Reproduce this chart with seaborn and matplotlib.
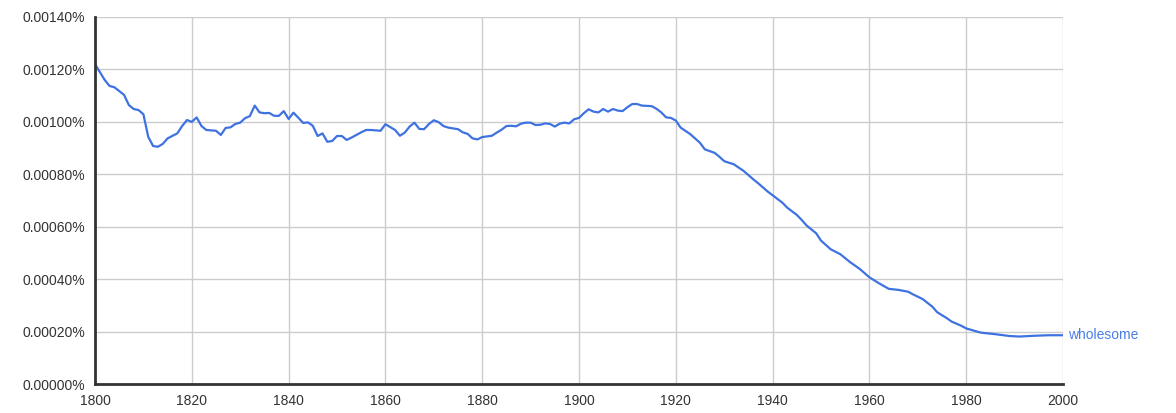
import matplotlib
matplotlib.use("Agg")
import matplotlib.pyplot as plt
import seaborn as sns
import pandas as pd
from matplotlib.ticker import FuncFormatter, MultipleLocator

years = [1800, 1802, 1803, 1804, 1806, 1807, 1808, 1809, 1810, 1811, 1812, 1813, 1814, 1815,
         1817, 1818, 1819, 1820, 1821, 1822, 1823, 1825, 1826, 1827, 1828, 1829, 1830, 1831,
         1832, 1833, 1834, 1835, 1836, 1837, 1838, 1839, 1840, 1841, 1842, 1843, 1844, 1845,
         1846, 1847, 1848, 1849, 1850, 1851, 1852, 1853, 1854, 1855, 1856, 1857, 1859, 1860,
         1862, 1863, 1864, 1865, 1866, 1867, 1868, 1869, 1870, 1871, 1872, 1873, 1875, 1876,
         1877, 1878, 1879, 1880, 1882, 1883, 1884, 1885, 1886, 1887, 1888, 1889, 1890, 1891,
         1892, 1893, 1894, 1895, 1896, 1897, 1898, 1899, 1900, 1901, 1902, 1903, 1904, 1905,
         1906, 1907, 1908, 1909, 1910, 1911, 1912, 1913, 1915, 1916, 1917, 1918, 1919, 1920,
         1921, 1923, 1925, 1926, 1928, 1929, 1930, 1932, 1934, 1936, 1937, 1939, 1940, 1942,
         1943, 1945, 1946, 1947, 1949, 1950, 1952, 1954, 1956, 1958, 1960, 1962, 1964, 1966,
         1968, 1969, 1971, 1973, 1974, 1976, 1977, 1979, 1980, 1983, 1986, 1989, 1991, 1994,
         1997, 2000]

wholesome = [0.001220, 0.001160, 0.001137, 0.001132, 0.001103, 0.001064, 0.001049, 0.001045,
             0.001029, 0.000943, 0.000908, 0.000905, 0.000916, 0.000937, 0.000956, 0.000984,
             0.001007, 0.001000, 0.001017, 0.000984, 0.000969, 0.000966, 0.000950, 0.000977,
             0.000979, 0.000992, 0.000997, 0.001014, 0.001022, 0.001062, 0.001036, 0.001033,
             0.001034, 0.001023, 0.001023, 0.001041, 0.001011, 0.001035, 0.001016, 0.000996,
             0.000998, 0.000985, 0.000946, 0.000956, 0.000924, 0.000927, 0.000946, 0.000946,
             0.000931, 0.000940, 0.000950, 0.000960, 0.000969, 0.000969, 0.000966, 0.000991,
             0.000969, 0.000947, 0.000959, 0.000982, 0.000997, 0.000973, 0.000972, 0.000992,
             0.001006, 0.000999, 0.000984, 0.000978, 0.000972, 0.000960, 0.000954, 0.000937,
             0.000933, 0.000942, 0.000947, 0.000959, 0.000970, 0.000984, 0.000985, 0.000983,
             0.000993, 0.000997, 0.000997, 0.000988, 0.000989, 0.000994, 0.000992, 0.000982,
             0.000993, 0.000997, 0.000994, 0.001010, 0.001015, 0.001033, 0.001048, 0.001039,
             0.001036, 0.001049, 0.001039, 0.001049, 0.001043, 0.001041, 0.001056, 0.001068,
             0.001068, 0.001062, 0.001060, 0.001050, 0.001036, 0.001017, 0.001015, 0.001005,
             0.000978, 0.000953, 0.000920, 0.000895, 0.000882, 0.000867, 0.000850, 0.000838,
             0.000813, 0.000781, 0.000766, 0.000734, 0.000720, 0.000692, 0.000673, 0.000645,
             0.000626, 0.000605, 0.000575, 0.000547, 0.000514, 0.000495, 0.000465, 0.000439,
             0.000407, 0.000384, 0.000363, 0.000359, 0.000352, 0.000342, 0.000324, 0.000295,
             0.000274, 0.000251, 0.000238, 0.000222, 0.000212, 0.000196, 0.000190, 0.000183,
             0.000181, 0.000184, 0.000186, 0.000186]

series_name = "wholesome"

sns.set_style("white")
plt.rcParams['font.family'] = ['Liberation Sans', 'DejaVu Sans']

df = pd.DataFrame({"year": years, "value": wholesome})

fig = plt.figure(figsize=(11.76, 4.13), dpi=100)
ax = fig.add_axes([95 / 1176, 29 / 413, 968 / 1176, 367 / 413])

line_color = "#3f72e1"
sns.lineplot(data=df, x="year", y="value", ax=ax, color=line_color, linewidth=1.6)

ax.set_xlim(1800, 2000)
ax.set_ylim(0, 0.0014)
ax.xaxis.set_major_locator(MultipleLocator(20))
ax.yaxis.set_major_locator(MultipleLocator(0.0002))
ax.yaxis.set_major_formatter(FuncFormatter(lambda v, p: f"{v:.5f}%"))
ax.set_xlabel("")
ax.set_ylabel("")

ax.grid(True, color="#cccccc", linewidth=1.0)
ax.set_axisbelow(True)
for s in ["top", "right"]:
    ax.spines[s].set_visible(False)
for s in ["left", "bottom"]:
    ax.spines[s].set_color("#333333")
    ax.spines[s].set_linewidth(2)
ax.tick_params(axis="both", direction="out", length=5, width=1.5, color="#333333",
               labelsize=10, labelcolor="#333333", pad=2)

ax.text(2001.0, wholesome[-1], series_name, color="#4a7de6", fontsize=10,
        va="center", ha="left", clip_on=False)

fig.savefig("out.png", dpi=100, facecolor="white")
